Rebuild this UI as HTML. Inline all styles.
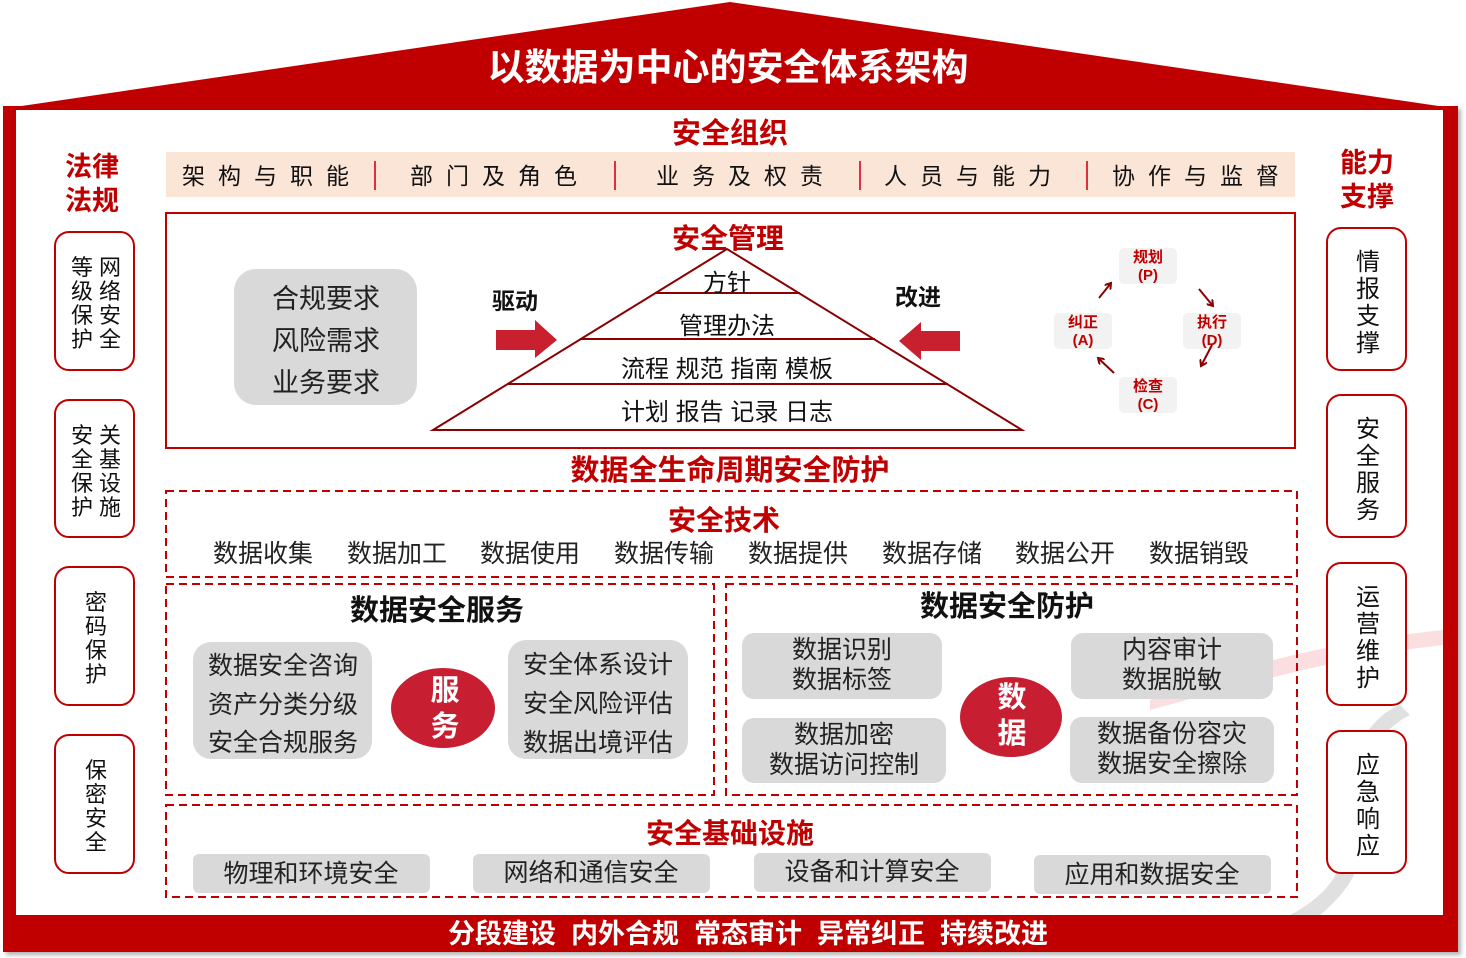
<!DOCTYPE html>
<html><head><meta charset="utf-8"><style>
html,body{margin:0;padding:0;background:#fff;}
svg{display:block;}
text{font-family:"Liberation Sans","Noto Sans CJK SC",sans-serif;}
.b{font-weight:bold;}
</style></head><body>
<svg width="1466" height="958" viewBox="0 0 1466 958" xmlns="http://www.w3.org/2000/svg">
<defs>
<filter id="sh" x="-5%" y="-5%" width="110%" height="110%"><feDropShadow dx="3" dy="3" stdDeviation="2" flood-color="#000" flood-opacity="0.3"/></filter>
<marker id="ah" markerWidth="8" markerHeight="8" refX="6" refY="4" orient="auto" markerUnits="userSpaceOnUse"><path d="M0,0 L6,4 L0,8" fill="none" stroke="#8b0000" stroke-width="2"/></marker>
</defs>
<g filter="url(#sh)">
<polygon points="8,108 730,2 1452,108" fill="#c00000"/>
<rect x="3" y="106" width="1455" height="846" fill="#c00000"/>
</g>
<rect x="16" y="110" width="1427" height="805" fill="#fff"/>
<path d="M1150,700 C1250,660 1350,640 1443,630 L1443,645 C1350,655 1260,680 1150,710 Z" fill="#fadadd" opacity="0.9"/>
<path d="M1400,705 C1360,720 1330,790 1340,850 C1345,880 1310,905 1290,915 L1320,915 C1350,890 1370,860 1360,820 C1350,770 1380,730 1410,715 Z" fill="#ddd" opacity="0.9"/>
<text x="728" y="80" font-size="37" fill="#fff" class="b" text-anchor="middle">以数据为中心的安全体系架构</text>
<text x="730" y="143" font-size="29" fill="#c00000" class="b" text-anchor="middle">安全组织</text>
<rect x="166" y="152" width="1129" height="45" fill="#fbe5d6"/>
<g font-size="23" fill="#111" letter-spacing="13">
<text x="182" y="184">架构与职能</text>
<text x="410" y="184">部门及角色</text>
<text x="656" y="184">业务及权责</text>
<text x="884" y="184">人员与能力</text>
<text x="1112" y="184">协作与监督</text>
</g>
<g stroke="#e03040" stroke-width="2"><line x1="375" y1="161" x2="375" y2="190"/><line x1="615" y1="161" x2="615" y2="190"/><line x1="860" y1="161" x2="860" y2="190"/><line x1="1087" y1="161" x2="1087" y2="190"/></g>
<g font-size="27" fill="#c00000" class="b" text-anchor="middle">
<text x="92" y="176">法律</text><text x="92" y="210">法规</text>
<text x="1367" y="172">能力</text><text x="1367" y="206">支撑</text>
</g>
<g fill="#fff" stroke="#c00000" stroke-width="2">
<rect x="55" y="232" width="79" height="138" rx="14"/>
<rect x="55" y="400" width="79" height="137" rx="14"/>
<rect x="55" y="567" width="79" height="138" rx="14"/>
<rect x="55" y="735" width="79" height="138" rx="14"/>
<rect x="1327" y="228" width="79" height="142" rx="14"/>
<rect x="1327" y="395" width="79" height="142" rx="14"/>
<rect x="1327" y="563" width="79" height="142" rx="14"/>
<rect x="1327" y="731" width="79" height="142" rx="14"/>
</g>
<g font-size="22" fill="#111" text-anchor="middle">
<text x="110" y="275">网</text><text x="110" y="299">络</text><text x="110" y="323">安</text><text x="110" y="347">全</text>
<text x="82" y="275">等</text><text x="82" y="299">级</text><text x="82" y="323">保</text><text x="82" y="347">护</text>
<text x="110" y="443">关</text><text x="110" y="467">基</text><text x="110" y="491">设</text><text x="110" y="515">施</text>
<text x="82" y="443">安</text><text x="82" y="467">全</text><text x="82" y="491">保</text><text x="82" y="515">护</text>
<text x="96" y="610">密</text><text x="96" y="634">码</text><text x="96" y="658">保</text><text x="96" y="682">护</text>
<text x="96" y="778">保</text><text x="96" y="802">密</text><text x="96" y="826">安</text><text x="96" y="850">全</text>
</g>
<g font-size="24" fill="#111" text-anchor="middle">
<text x="1368" y="270">情</text><text x="1368" y="297">报</text><text x="1368" y="324">支</text><text x="1368" y="351">撑</text>
<text x="1368" y="437">安</text><text x="1368" y="464">全</text><text x="1368" y="491">服</text><text x="1368" y="518">务</text>
<text x="1368" y="605">运</text><text x="1368" y="632">营</text><text x="1368" y="659">维</text><text x="1368" y="686">护</text>
<text x="1368" y="773">应</text><text x="1368" y="800">急</text><text x="1368" y="827">响</text><text x="1368" y="854">应</text>
</g>
<rect x="166" y="213" width="1129" height="235" fill="none" stroke="#c00000" stroke-width="2"/>
<text x="728" y="248" font-size="28" fill="#c00000" class="b" text-anchor="middle">安全管理</text>
<rect x="234" y="269" width="183" height="136" rx="22" fill="#d9d9d9"/>
<g font-size="27" fill="#222" text-anchor="middle"><text x="326" y="308">合规要求</text><text x="326" y="350">风险需求</text><text x="326" y="392">业务要求</text></g>
<g stroke="#8b0000" stroke-width="2" fill="none">
<polygon points="727,249 433,430 1022,430"/>
<line x1="655" y1="293" x2="800" y2="293"/>
<line x1="580" y1="339" x2="875" y2="339"/>
<line x1="507" y1="384" x2="948" y2="384"/>
</g>
<g font-size="24" fill="#111" text-anchor="middle">
<text x="727" y="291">方针</text><text x="727" y="334">管理办法</text>
<text x="727" y="377">流程 规范 指南 模板</text><text x="727" y="420">计划 报告 记录 日志</text>
</g>
<text x="515" y="309" font-size="23" fill="#111" class="b" text-anchor="middle">驱动</text>
<text x="918" y="305" font-size="23" fill="#111" class="b" text-anchor="middle">改进</text>
<polygon points="496,330 535,330 535,320 557,340 535,358 535,350 496,350" fill="#c8202f"/>
<polygon points="960,331 921,331 921,322 899,341 921,360 921,351 960,351" fill="#c8202f"/>
<g fill="#f2f2f2">
<rect x="1119" y="248" width="58" height="36" rx="5"/>
<rect x="1183" y="313" width="58" height="36" rx="5"/>
<rect x="1054" y="313" width="58" height="36" rx="5"/>
<rect x="1119" y="377" width="58" height="36" rx="5"/>
</g>
<g font-size="15" fill="#c00000" class="b" text-anchor="middle">
<text x="1148" y="262">规划</text><text x="1148" y="280">(P)</text>
<text x="1212" y="327">执行</text><text x="1212" y="345">(D)</text>
<text x="1083" y="327">纠正</text><text x="1083" y="345">(A)</text>
<text x="1148" y="391">检查</text><text x="1148" y="409">(C)</text>
</g>
<g stroke="#8b0000" stroke-width="2" fill="none" marker-end="url(#ah)">
<line x1="1099" y1="298" x2="1111" y2="283"/>
<line x1="1199" y1="289" x2="1213" y2="306"/>
<line x1="1212" y1="345" x2="1201" y2="366"/>
<line x1="1114" y1="373" x2="1098" y2="358"/>
</g>
<text x="730" y="480" font-size="29" fill="#c00000" class="b" text-anchor="middle">数据全生命周期安全防护</text>
<g fill="none" stroke="#c00000" stroke-width="2" stroke-dasharray="8,5">
<rect x="166" y="491" width="1131" height="86"/>
<rect x="166" y="584" width="548" height="211"/>
<rect x="726" y="584" width="571" height="211"/>
<rect x="166" y="805" width="1131" height="92"/>
</g>
<text x="724" y="530" font-size="28" fill="#c00000" class="b" text-anchor="middle">安全技术</text>
<g font-size="25" fill="#222" text-anchor="middle">
<text x="263" y="562">数据收集</text><text x="397" y="562">数据加工</text><text x="530" y="562">数据使用</text><text x="664" y="562">数据传输</text>
<text x="798" y="562">数据提供</text><text x="932" y="562">数据存储</text><text x="1065" y="562">数据公开</text><text x="1199" y="562">数据销毁</text>
</g>
<text x="437" y="620" font-size="29" fill="#111" class="b" text-anchor="middle">数据安全服务</text>
<rect x="193" y="642" width="179" height="117" rx="18" fill="#d9d9d9"/>
<rect x="508" y="640" width="180" height="119" rx="18" fill="#d9d9d9"/>
<g font-size="25" fill="#222" text-anchor="middle">
<text x="283" y="674">数据安全咨询</text><text x="283" y="713">资产分类分级</text><text x="283" y="751">安全合规服务</text>
<text x="598" y="673">安全体系设计</text><text x="598" y="712">安全风险评估</text><text x="598" y="751">数据出境评估</text>
</g>
<ellipse cx="443" cy="708" rx="52" ry="40" fill="#c81e32"/>
<text x="445" y="700" font-size="29" fill="#fff" class="b" text-anchor="middle">服</text>
<text x="445" y="736" font-size="29" fill="#fff" class="b" text-anchor="middle">务</text>
<text x="1007" y="616" font-size="29" fill="#111" class="b" text-anchor="middle">数据安全防护</text>
<g fill="#d9d9d9">
<rect x="742" y="633" width="200" height="66" rx="12"/>
<rect x="742" y="718" width="204" height="65" rx="12"/>
<rect x="1071" y="633" width="202" height="66" rx="12"/>
<rect x="1070" y="717" width="204" height="66" rx="12"/>
</g>
<g font-size="25" fill="#222" text-anchor="middle">
<text x="842" y="658">数据识别</text><text x="842" y="688">数据标签</text>
<text x="844" y="743">数据加密</text><text x="844" y="773">数据访问控制</text>
<text x="1172" y="658">内容审计</text><text x="1172" y="688">数据脱敏</text>
<text x="1172" y="742">数据备份容灾</text><text x="1172" y="772">数据安全擦除</text>
</g>
<ellipse cx="1011" cy="717" rx="51" ry="40" fill="#c81e32"/>
<text x="1012" y="707" font-size="29" fill="#fff" class="b" text-anchor="middle">数</text>
<text x="1012" y="743" font-size="29" fill="#fff" class="b" text-anchor="middle">据</text>
<text x="730" y="843" font-size="28" fill="#c00000" class="b" text-anchor="middle">安全基础设施</text>
<g fill="#d9d9d9">
<rect x="193" y="854" width="237" height="39" rx="6"/>
<rect x="473" y="854" width="237" height="39" rx="6"/>
<rect x="754" y="853" width="237" height="39" rx="6"/>
<rect x="1034" y="855" width="237" height="39" rx="6"/>
</g>
<g font-size="25" fill="#222" text-anchor="middle">
<text x="311" y="882">物理和环境安全</text><text x="591" y="881">网络和通信安全</text>
<text x="872" y="880">设备和计算安全</text><text x="1152" y="883">应用和数据安全</text>
</g>
<text x="748" y="943" font-size="27" fill="#fff" class="b" text-anchor="middle" xml:space="preserve">分段建设  内外合规  常态审计  异常纠正  持续改进</text>
</svg>
</body></html>
